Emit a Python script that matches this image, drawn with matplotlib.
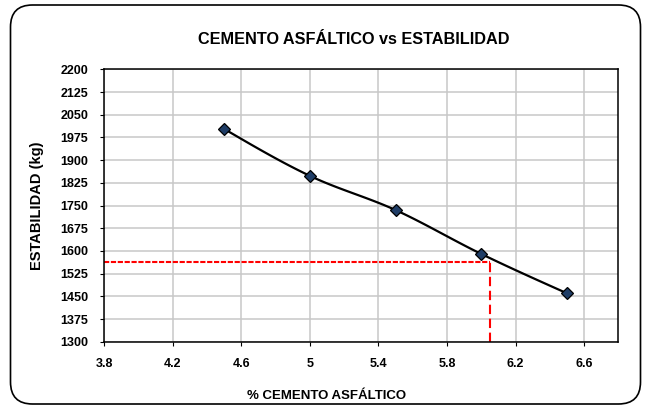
import numpy as np
import matplotlib
matplotlib.use('Agg')
import matplotlib.pyplot as plt
from matplotlib.patches import FancyBboxPatch

# datos
cemento = [4.5, 5.0, 5.5, 6.0, 6.5]
estabilidad = [2003, 1848, 1735, 1590, 1460]
opt_x = 6.05
opt_y = 1564

xticks = [3.8, 4.2, 4.6, 5.0, 5.4, 5.8, 6.2, 6.6]
xlabels = ['3.8', '4.2', '4.6', '5', '5.4', '5.8', '6.2', '6.6']
yticks = list(range(1300, 2201, 75))

plt.rcParams['font.family'] = ['Liberation Sans', 'DejaVu Sans']
plt.rcParams['font.weight'] = 'bold'


def smooth(x, y, n=30):
    # curva suavizada (hermite, tangentes centrales y extremos cuadraticos)
    pts = np.column_stack([x, y]).astype(float)
    m = np.zeros_like(pts)
    m[1:-1] = (pts[2:] - pts[:-2]) / 2
    m[0] = 1.5*(pts[1] - pts[0]) - 0.5*m[1]
    m[-1] = 1.5*(pts[-1] - pts[-2]) - 0.5*m[-2]
    t = np.linspace(0, 1, n)[:, None]
    h00 = 2*t**3 - 3*t**2 + 1
    h10 = t**3 - 2*t**2 + t
    h01 = -2*t**3 + 3*t**2
    h11 = t**3 - t**2
    segs = [h00*pts[i] + h10*m[i] + h01*pts[i+1] + h11*m[i+1] for i in range(len(pts)-1)]
    c = np.vstack(segs)
    return c[:, 0], c[:, 1]


fig = plt.figure(figsize=(6.45, 4.08), dpi=100)
# marco redondeado (en pulgadas para que las esquinas salgan circulares)
frame = FancyBboxPatch((0.105, 0.04), 6.30, 3.99, boxstyle='round,pad=0,rounding_size=0.22',
                       transform=fig.dpi_scale_trans, facecolor='white', edgecolor='black',
                       linewidth=1.2, zorder=-5)
fig.patches.append(frame)

ax = fig.add_axes([0.1617, 0.1625, 0.797, 0.6675])
ax.set_facecolor('none')
sx, sy = smooth(cemento, estabilidad)
ax.plot(sx, sy, color='black', linewidth=1.6, zorder=3)
ax.plot(cemento, estabilidad, linestyle='none', marker='D', markersize=6.5,
        markerfacecolor='#1f3d66', markeredgecolor='black', markeredgewidth=0.9, zorder=4)

ax.plot([3.8, opt_x], [opt_y, opt_y], color='red', linewidth=1.5, dashes=(2.5, 0.8), zorder=2)
ax.plot([opt_x, opt_x], [1300, opt_y], color='red', linewidth=1.5, dashes=(4.5, 2.2), zorder=2)

ax.set_xlim(3.8, 6.8)
ax.set_ylim(1300, 2200)
ax.set_xticks(xticks)
ax.set_xticklabels(xlabels)
ax.set_yticks(yticks)
ax.tick_params(axis='y', labelsize=9, length=3, direction='out', pad=8.5)
ax.tick_params(axis='x', labelsize=9, length=3, direction='out', pad=9)
ax.grid(True, color='#c8c8c8', linewidth=1.1)
ax.set_axisbelow(True)
for s in ax.spines.values():
    s.set_linewidth(1.1)

ax.set_xlabel('% CEMENTO ASFÁLTICO', fontsize=9.5, fontweight='bold')
ax.xaxis.set_label_coords(0.433, -0.177)
ax.set_ylabel('ESTABILIDAD (kg)', fontsize=10.5, fontweight='bold', labelpad=12)
fig.text(0.549, 0.903, 'CEMENTO ASFÁLTICO vs ESTABILIDAD', ha='center', va='center',
         fontsize=11.7, fontweight='bold')

fig.savefig('out.png', dpi=100)
